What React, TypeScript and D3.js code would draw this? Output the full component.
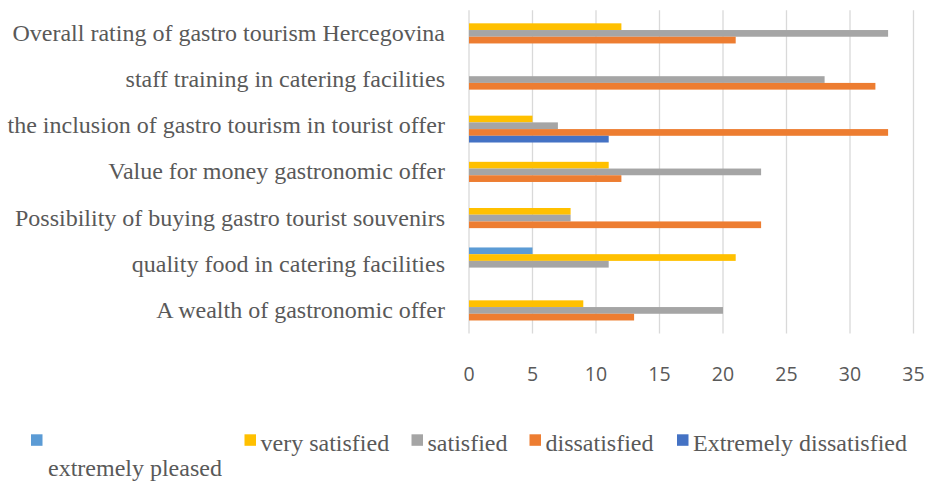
import React from "react";
import * as d3 from "d3";

const categories = [
  "Overall rating of gastro tourism Hercegovina",
  "staff training in catering facilities",
  "the inclusion of gastro tourism in tourist offer",
  "Value for money gastronomic offer",
  "Possibility of buying gastro tourist souvenirs",
  "quality food in catering facilities",
  "A wealth of gastronomic offer",
];

const seriesNames = [
  "extremely pleased",
  "very satisfied",
  "satisfied",
  "dissatisfied",
  "Extremely dissatisfied",
];

const extremelyPleased = [0, 0, 0, 0, 0, 5, 0];
const verySatisfied = [12, 0, 5, 11, 8, 21, 9];
const satisfied = [33, 28, 7, 23, 8, 11, 20];
const dissatisfied = [21, 32, 33, 12, 23, 0, 13];
const extremelyDissatisfied = [0, 0, 11, 0, 0, 0, 0];

const xTicks = [0, 5, 10, 15, 20, 25, 30, 35];

const seriesColors = ["#5B9BD5", "#FFC000", "#A5A5A5", "#ED7D31", "#4472C4"];

const seriesValues = [
  extremelyPleased,
  verySatisfied,
  satisfied,
  dissatisfied,
  extremelyDissatisfied,
];

// layout
const W = 927;
const H = 481;
const plot = { left: 469, right: 913.5, top: 10.3, bottom: 333.5 };
const legendSquareX = [31, 244.5, 411.5, 529.5, 677];
const textColor = "#595959";
const serif = "'Liberation Serif', 'Times New Roman', serif";
const sans = "'Open Sans', 'Noto Sans', sans-serif";

export default function App() {
  const x = d3.scaleLinear().domain([0, 35]).range([plot.left, plot.right]);
  const y = d3
    .scaleBand<string>()
    .domain(categories)
    .range([plot.top, plot.bottom])
    .paddingInner(0.273)
    .paddingOuter(0.1365);
  const ys = d3
    .scaleBand<string>()
    .domain(seriesNames)
    .range([0, y.bandwidth()])
    .padding(0);

  const step = y.step();

  return (
    <svg
      width={W}
      height={H}
      style={{ position: "absolute", left: 0, top: 0, background: "#fff" }}
    >
      <rect x={0} y={0} width={W} height={H} fill="#fff" />
      {xTicks.map((t) => (
        <line
          key={"g" + t}
          x1={x(t)}
          x2={x(t)}
          y1={plot.top}
          y2={plot.bottom}
          stroke="#d9d9d9"
          strokeWidth={1.3}
        />
      ))}
      {seriesValues.map((vals, si) =>
        vals.map((v, ci) =>
          v > 0 ? (
            <rect
              key={si + "-" + ci}
              x={x(0)}
              y={(y(categories[ci]) as number) + (ys(seriesNames[si]) as number)}
              width={x(v) - x(0)}
              height={ys.bandwidth()}
              fill={seriesColors[si]}
            />
          ) : null
        )
      )}
      {categories.map((c) => (
        <text
          key={c}
          x={445}
          y={(y(c) as number) + y.bandwidth() / 2 + 7.5}
          textAnchor="end"
          fontFamily={serif}
          fontSize={24}
          fill={textColor}
        >
          {c}
        </text>
      ))}
      {xTicks.map((t) => (
        <text
          key={"t" + t}
          x={x(t)}
          y={381}
          textAnchor="middle"
          fontFamily={sans}
          fontSize={19.5}
          fill={textColor}
        >
          {t}
        </text>
      ))}
      {seriesNames.map((s, i) => (
        <g key={s}>
          <rect
            x={legendSquareX[i]}
            y={434.3}
            width={11.5}
            height={11.5}
            fill={seriesColors[i]}
          />
          <text
            x={i === 0 ? 48 : legendSquareX[i] + 16}
            y={i === 0 ? 475.5 : 450.5}
            fontFamily={serif}
            fontSize={24}
            fill={textColor}
          >
            {s}
          </text>
        </g>
      ))}
    </svg>
  );
}
